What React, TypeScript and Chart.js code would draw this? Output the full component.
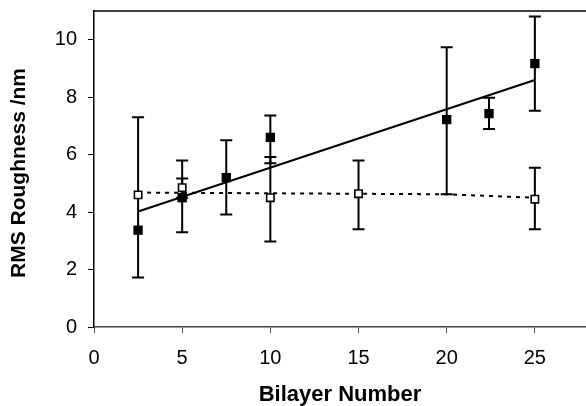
import React, { useEffect, useRef } from "react";
import { Chart, registerables } from "chart.js";

Chart.register(...registerables);

// Filled squares (series A)
const filledX = [2.5, 5, 7.5, 10, 20, 22.4, 25];
const filledY = [3.37, 4.5, 5.2, 6.6, 7.22, 7.43, 9.17];
const filledLow = [1.72, 3.3, 3.92, 5.7, 4.62, 6.89, 7.53];
const filledHigh = [7.3, 5.8, 6.5, 7.36, 9.74, 7.98, 10.81];

// Hollow squares (series B)
const hollowX = [2.5, 5, 10, 15, 25];
const hollowY = [4.6, 4.85, 4.5, 4.64, 4.45];
const hollowLow = [4.6, 4.5, 2.98, 3.4, 3.4];
const hollowHigh = [4.6, 5.17, 5.92, 5.8, 5.54];

// Fit lines
const trendX = [2.5, 25];
const trendY = [4.02, 8.6];
const dashX = [2.5, 20, 25];
const dashY = [4.68, 4.62, 4.5];

const xTicks = [0, 5, 10, 15, 20, 25];
const yTicks = [0, 2, 4, 6, 8, 10];

const xTitle = "Bilayer Number";
const yTitle = "RMS Roughness /nm";

const FONT = "'Liberation Sans', Arial, sans-serif";

const errorBars = {
  id: "errorBars",
  beforeDatasetsDraw(chart: any) {
    const { ctx, scales } = chart;
    const xs = scales.x;
    const ys = scales.y;
    const draw = (xArr: number[], lo: number[], hi: number[]) => {
      ctx.save();
      ctx.strokeStyle = "#000";
      ctx.lineWidth = 2;
      for (let i = 0; i < xArr.length; i++) {
        if (lo[i] === hi[i]) continue;
        const px = xs.getPixelForValue(xArr[i]);
        const p1 = ys.getPixelForValue(lo[i]);
        const p2 = ys.getPixelForValue(hi[i]);
        ctx.beginPath();
        ctx.moveTo(px, p1);
        ctx.lineTo(px, p2);
        ctx.moveTo(px - 6, p1);
        ctx.lineTo(px + 6, p1);
        ctx.moveTo(px - 6, p2);
        ctx.lineTo(px + 6, p2);
        ctx.stroke();
      }
      ctx.restore();
    };
    draw(filledX, filledLow, filledHigh);
    draw(hollowX, hollowLow, hollowHigh);
  },
};

const frameAndTitles = {
  id: "frameAndTitles",
  afterDraw(chart: any) {
    const { ctx, chartArea } = chart;
    ctx.save();
    ctx.strokeStyle = "#000";
    ctx.lineWidth = 1.5;
    ctx.beginPath();
    ctx.moveTo(chartArea.left, chartArea.top);
    ctx.lineTo(chartArea.right, chartArea.top);
    ctx.stroke();
    ctx.fillStyle = "#000";
    ctx.textAlign = "center";
    ctx.textBaseline = "middle";
    ctx.font = `bold 22px ${FONT}`;
    ctx.fillText(xTitle, (chartArea.left + chartArea.right) / 2, 395);
    ctx.font = `bold 21px ${FONT}`;
    ctx.translate(19, (chartArea.top + chartArea.bottom) / 2 + 4);
    ctx.rotate(-Math.PI / 2);
    ctx.fillText(yTitle, 0, 0);
    ctx.restore();
  },
};

export default function App() {
  const ref = useRef<HTMLCanvasElement>(null);
  useEffect(() => {
    if (!ref.current) return;
    const chart = new Chart(ref.current, {
      type: "scatter",
      data: {
        datasets: [
          {
            data: filledX.map((x, i) => ({ x, y: filledY[i] })),
            pointStyle: "rect",
            pointRadius: 6.6,
            backgroundColor: "#000",
            borderColor: "#000",
            borderWidth: 0,
            showLine: false,
          },
          {
            data: hollowX.map((x, i) => ({ x, y: hollowY[i] })),
            pointStyle: "rect",
            pointRadius: 5.2,
            backgroundColor: "#fff",
            borderColor: "#000",
            borderWidth: 1.6,
            showLine: false,
          },
          {
            data: trendX.map((x, i) => ({ x, y: trendY[i] })),
            showLine: true,
            borderColor: "#000",
            borderWidth: 2,
            pointRadius: 0,
          },
          {
            data: dashX.map((x, i) => ({ x, y: dashY[i] })),
            showLine: true,
            borderColor: "#000",
            borderWidth: 2,
            borderDash: [4, 5],
            pointRadius: 0,
          },
        ],
      },
      options: {
        responsive: false,
        animation: false,
        layout: { autoPadding: false, padding: { top: 11, left: 0, right: 0, bottom: 0 } },
        plugins: { legend: { display: false }, tooltip: { enabled: false }, title: { display: false } },
        scales: {
          x: {
            type: "linear",
            min: 0,
            max: 27.9,
            afterFit: (s: any) => {
              s.height = 79;
              s.paddingLeft = 0;
              s.paddingRight = 0;
              s.paddingTop = 0;
              s.paddingBottom = 0;
            },
            afterBuildTicks: (s: any) => {
              s.ticks = xTicks.map((v) => ({ value: v }));
            },
            ticks: {
              color: "#000",
              font: { family: FONT, size: 20 },
              padding: 13,
              maxRotation: 0,
              autoSkip: false,
            },
            grid: { drawOnChartArea: false, drawTicks: true, tickLength: 6, color: "#555", lineWidth: 1 },
            border: { display: true, color: "#444", width: 1.5 },
          },
          y: {
            type: "linear",
            min: 0,
            max: 11,
            afterFit: (s: any) => {
              s.width = 94;
              s.paddingLeft = 0;
              s.paddingRight = 0;
              s.paddingTop = 0;
              s.paddingBottom = 0;
            },
            afterBuildTicks: (s: any) => {
              s.ticks = yTicks.map((v) => ({ value: v }));
            },
            ticks: {
              color: "#000",
              font: { family: FONT, size: 20 },
              padding: 11,
              autoSkip: false,
            },
            grid: { drawOnChartArea: false, drawTicks: true, tickLength: 6, color: "#000", lineWidth: 1 },
            border: { display: true, color: "#000", width: 1.5 },
          },
        },
      },
      plugins: [errorBars, frameAndTitles],
    });
    return () => chart.destroy();
  }, []);
  return (
    <div style={{ position: "fixed", left: 0, top: 0, width: 586, height: 406, background: "#fff" }}>
      <canvas ref={ref} width={586} height={406} style={{ width: 586, height: 406 }} />
    </div>
  );
}
